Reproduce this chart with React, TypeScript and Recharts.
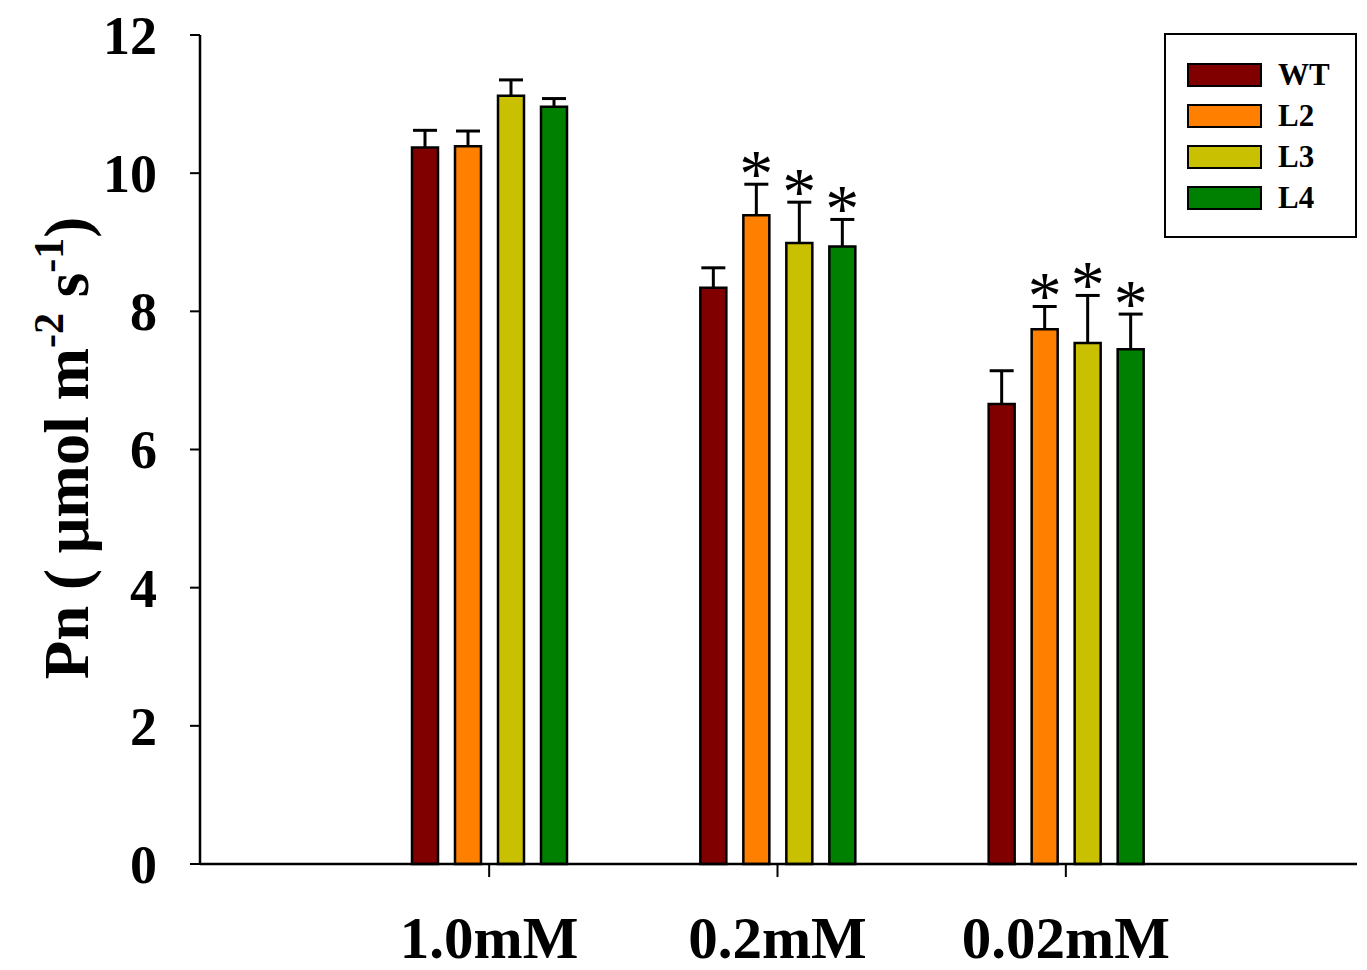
import React from 'react';
import { BarChart, Bar, XAxis, YAxis, Legend, LabelList } from 'recharts';

const categories = ['1.0mM', '0.2mM', '0.02mM'];
const seriesNames = ['WT', 'L2', 'L3', 'L4'];
const seriesColors = ['#800000', '#ff8000', '#c8c000', '#008000'];
const wtValues = [10.37, 8.34, 6.66];
const l2Values = [10.39, 9.39, 7.74];
const l3Values = [11.12, 8.99, 7.54];
const l4Values = [10.96, 8.94, 7.45];
const wtErrors = [0.25, 0.29, 0.48];
const l2Errors = [0.22, 0.45, 0.33];
const l3Errors = [0.23, 0.59, 0.69];
const l4Errors = [0.12, 0.39, 0.51];
const wtMarks = ['', '', ''];
const l2Marks = ['', '*', '*'];
const l3Marks = ['', '*', '*'];
const l4Marks = ['', '*', '*'];
const yTicks = [0, 2, 4, 6, 8, 10, 12];

const valuesBySeries = [wtValues, l2Values, l3Values, l4Values];
const errorsBySeries = [wtErrors, l2Errors, l3Errors, l4Errors];
const marksBySeries = [wtMarks, l2Marks, l3Marks, l4Marks];

const data = categories.map((cat, i) => {
  const row: any = { cat };
  seriesNames.forEach((name, s) => {
    row[name] = valuesBySeries[s][i];
    row[name + '_err'] = errorsBySeries[s][i];
    row[name + '_mark'] = marksBySeries[s][i];
  });
  return row;
});

const FONT = '"Liberation Serif", "DejaVu Serif", serif';

const ErrShape = (props: any) => {
  const { x, y, width, height } = props;
  const cx = x + width / 2;
  return (
    <g>
      <line x1={cx} y1={y} x2={cx} y2={y + height} stroke="#000" strokeWidth={3} />
      <line x1={cx - 12} y1={y} x2={cx + 12} y2={y} stroke="#000" strokeWidth={3} />
    </g>
  );
};

const StarLabel = (props: any) => {
  const { x, y, width, value } = props;
  if (!value) return null;
  return (
    <text x={x + width / 2} y={y + 12} textAnchor="middle" fontFamily={FONT} fontSize={68} fill="#000">
      {value}
    </text>
  );
};

const XTick = (props: any) => {
  const { x, y, payload } = props;
  return (
    <text x={x} y={y + 79} textAnchor="middle" fontFamily={FONT} fontWeight="bold" fontSize={59} fill="#000">
      {payload.value}
    </text>
  );
};

const YTick = (props: any) => {
  const { x, y, payload } = props;
  return (
    <text x={x} y={y} dy="0.35em" textAnchor="end" fontFamily={FONT} fontWeight="bold" fontSize={54} fill="#000">
      {payload.value}
    </text>
  );
};

const YLabel = () => (
  <text transform="translate(88,448) rotate(-90)" textAnchor="middle" fontFamily={FONT} fontWeight="bold" fontSize={63} fill="#000">
    <tspan>Pn ( μmol m</tspan>
    <tspan dy={-25} fontSize={42}>-2</tspan>
    <tspan dy={25}> s</tspan>
    <tspan dy={-25} fontSize={42}>-1</tspan>
    <tspan dy={25}>)</tspan>
  </text>
);

const LegendBox = () => (
  <div style={{ width: 193, height: 205, boxSizing: 'border-box', border: '2px solid #000', background: '#fff', position: 'relative' }}>
    {seriesNames.map((name, i) => (
      <div key={name} style={{ position: 'absolute', left: 21, top: 28 + i * 41, display: 'flex', alignItems: 'center' }}>
        <div style={{ width: 75, height: 24, boxSizing: 'border-box', background: seriesColors[i], border: '2px solid #000' }} />
        <span style={{ marginLeft: 16, fontFamily: FONT, fontWeight: 'bold', fontSize: 31, lineHeight: '24px', color: '#000' }}>{name}</span>
      </div>
    ))}
  </div>
);

export default function App() {
  return (
    <div style={{ position: 'absolute', left: 0, top: 0, width: 1367, height: 970, background: '#fff' }}>
      <BarChart width={1367} height={970} data={data} margin={{ top: 35, right: 10, left: 0, bottom: 0 }} barSize={26} barGap={17}>
        <XAxis
          dataKey="cat"
          height={106}
          padding={{ left: 145, right: 147 }}
          tickSize={13}
          tickLine={{ stroke: '#000', strokeWidth: 2 }}
          axisLine={{ stroke: '#000', strokeWidth: 2.5 }}
          tick={<XTick />}
          interval={0}
        />
        <XAxis xAxisId="top" dataKey="cat" orientation="top" height={0} tick={false} tickLine={false} axisLine={{ stroke: '#000', strokeWidth: 2.5 }} />
        <YAxis
          width={200}
          domain={[0, 12]}
          ticks={yTicks}
          interval={0}
          tickSize={10}
          tickMargin={33}
          tickLine={{ stroke: '#000', strokeWidth: 2 }}
          axisLine={{ stroke: '#000', strokeWidth: 2.5 }}
          tick={<YTick />}
          label={<YLabel />}
        />
        <YAxis yAxisId="right" orientation="right" width={0} domain={[0, 12]} tick={false} tickLine={false} axisLine={{ stroke: '#000', strokeWidth: 2.5 }} />
        {seriesNames.map((name, i) => [
          <Bar key={name} dataKey={name} name={name} stackId={name} fill={seriesColors[i]} stroke="#000" strokeWidth={2.5} isAnimationActive={false} />,
          <Bar key={name + '_err'} dataKey={name + '_err'} stackId={name} legendType="none" fill="none" shape={<ErrShape />} isAnimationActive={false}>
            <LabelList dataKey={name + '_mark'} content={<StarLabel />} />
          </Bar>,
        ])}
        <Legend
          layout="vertical"
          align="center"
          verticalAlign="middle"
          content={<LegendBox />}
          wrapperStyle={{ position: 'absolute', left: 1164, top: 33, width: 193, height: 205 }}
        />
      </BarChart>
    </div>
  );
}
